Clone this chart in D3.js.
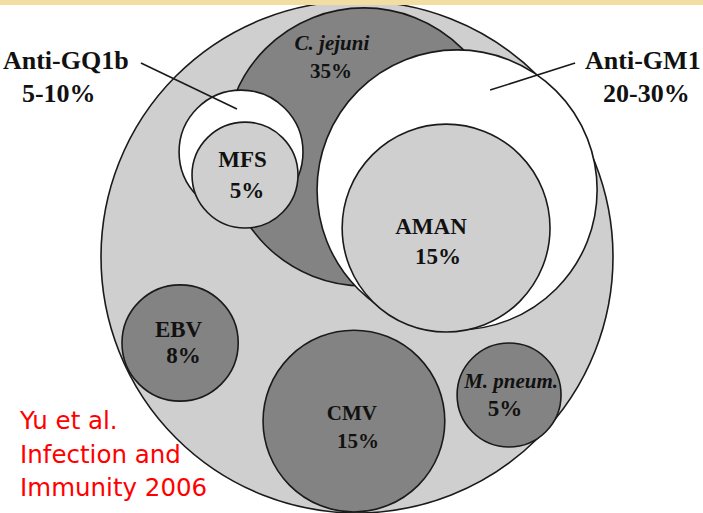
<!DOCTYPE html>
<html>
<head>
<meta charset="utf-8">
<script src="https://cdn.jsdelivr.net/npm/d3@7"></script>
<style>
  html, body { margin: 0; padding: 0; background: #fff; }
  svg { display: block; }
  .lbl { font-family: 'Liberation Serif', 'Times New Roman', serif; font-weight: bold; fill: #111; }
  .src { font-family: 'DejaVu Sans', Verdana, sans-serif; fill: #ff0000; }
</style>
</head>
<body>
<svg id="chart" width="703" height="513"></svg>
<script>
// data
const groups = ['C. jejuni', 'MFS', 'AMAN', 'EBV', 'M. pneum.', 'CMV'];
const groupPct = [35, 5, 15, 8, 5, 15];
const antibodies = ['Anti-GQ1b', 'Anti-GM1'];
const antibodyRange = ['5-10%', '20-30%'];
const sourceLines = ['Yu et al.', 'Infection and', 'Immunity 2006'];

// layout, in diagram units (outer circle = radius 100)
const circles = [
  { key: 'all', cx: 0, cy: 0, r: 100, fill: 'light' },
  { key: 'C. jejuni', cx: 2.7, cy: -43.0, r: 54.3, fill: 'dark' },
  { key: 'Anti-GM1', cx: 39.1, cy: -26.2, r: 54.7, fill: 'white' },
  { key: 'AMAN', cx: 34.8, cy: -11.3, r: 40.6, fill: 'light' },
  { key: 'Anti-GQ1b', cx: -45.3, cy: -41.0, r: 24.2, fill: 'white' },
  { key: 'MFS', cx: -43.75, cy: -32.0, r: 20.7, fill: 'light' },
  { key: 'EBV', cx: -69.1, cy: 33.6, r: 22.7, fill: 'dark' },
  { key: 'CMV', cx: -1.2, cy: 64.1, r: 35.5, fill: 'dark' },
  { key: 'M. pneum.', cx: 59.4, cy: 53.9, r: 20.3, fill: 'dark' }
];
const labelPos = {
  'C. jejuni': [[-9.8, -80.9], [-10.2, -69.9]],
  'MFS': [[-44.7, -35.2], [-43.0, -23.0]],
  'AMAN': [[28.9, -9.0], [31.6, 2.7]],
  'EBV': [[-69.7, 31.3], [-67.8, 41.4]],
  'M. pneum.': [[60.2, 51.2], [57.8, 62.1]],
  'CMV': [[-2.0, 63.7], [0.4, 74.6]]
};
const italic = ['C. jejuni', 'M. pneum.'];
const antiPos = [[[-138.3, -73.4], [-130.9, -60.5]], [[89.1, -73.4], [96.1, -60.5]]];
const leaders = [[[-84.4, -75.8], [-46.9, -57.8]], [[85.2, -75.8], [52.0, -65.2]]];
const sourcePos = [[-131.6, 67.2], [-131.6, 80.5], [-131.6, 93.4]];

const colors = { light: '#cfcfcf', dark: '#838383', white: '#ffffff' };

const svg = d3.select('#chart');
const x = d3.scaleLinear().domain([-100, 100]).range([101, 613]);
const y = d3.scaleLinear().domain([-100, 100]).range([1, 513]);
const k = x(1) - x(0);

svg.append('g')
  .selectAll('circle')
  .data(circles)
  .join('circle')
  .attr('cx', d => x(d.cx))
  .attr('cy', d => y(d.cy))
  .attr('r', d => d.r * k)
  .attr('fill', d => colors[d.fill])
  .attr('stroke', '#1a1a1a')
  .attr('stroke-width', 1.6);

// leader lines for the antibody labels
svg.append('g')
  .selectAll('line')
  .data(leaders)
  .join('line')
  .attr('x1', d => x(d[0][0])).attr('y1', d => y(d[0][1]))
  .attr('x2', d => x(d[1][0])).attr('y2', d => y(d[1][1]))
  .attr('stroke', '#1a1a1a')
  .attr('stroke-width', 1.6);

// group labels
const gl = svg.append('g').selectAll('g')
  .data(groups.map((g, i) => ({ name: g, pct: groupPct[i] })))
  .join('g');
gl.append('text')
  .attr('class', 'lbl')
  .attr('text-anchor', 'middle')
  .attr('x', d => x(labelPos[d.name][0][0]))
  .attr('y', d => y(labelPos[d.name][0][1]))
  .style('font-size', d => italic.includes(d.name) || d.name === 'CMV' ? '21px' : '23px')
  .style('font-style', d => italic.includes(d.name) ? 'italic' : 'normal')
  .text(d => d.name);
gl.append('text')
  .attr('class', 'lbl')
  .attr('text-anchor', 'middle')
  .attr('x', d => x(labelPos[d.name][1][0]))
  .attr('y', d => y(labelPos[d.name][1][1]))
  .style('font-size', d => d.name === 'CMV' || d.name === 'C. jejuni' ? '21px' : '23px')
  .text(d => d.pct + '%');

// antibody labels
antibodies.forEach((a, i) => {
  svg.append('text').attr('class', 'lbl')
    .attr('x', x(antiPos[i][0][0])).attr('y', y(antiPos[i][0][1]))
    .style('font-size', '26px').text(a);
  svg.append('text').attr('class', 'lbl')
    .attr('x', x(antiPos[i][1][0])).attr('y', y(antiPos[i][1][1]))
    .style('font-size', '26px').text(antibodyRange[i]);
});

// source note
svg.append('g').selectAll('text')
  .data(sourceLines)
  .join('text')
  .attr('class', 'src')
  .attr('x', (d, i) => x(sourcePos[i][0]))
  .attr('y', (d, i) => y(sourcePos[i][1]))
  .style('font-size', '24.5px')
  .text(d => d);

// slide strip along the top
svg.append('rect')
  .attr('x', 0).attr('y', 0).attr('width', 703).attr('height', 5)
  .attr('fill', '#f2dea2');
</script>
</body>
</html>
